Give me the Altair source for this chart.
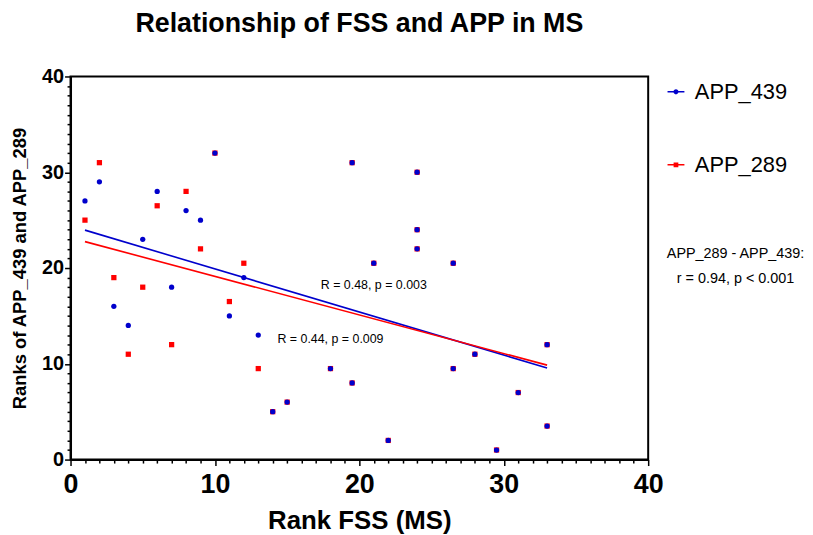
import altair as alt
import pandas as pd

# ---- data ----
rank_fss = [1, 2, 3, 4, 5, 6, 7, 8, 9, 10, 11, 12, 13, 14, 15, 18, 19.5, 19.5,
            21, 22, 24, 24, 24, 26.5, 26.5, 28, 29.5, 31, 33, 33]
app_439 = [27, 29, 16, 14, 23, 28, 18, 26, 25, 32, 15, 19, 13, 5, 6, 9.5, 8, 31,
           20.5, 2, 30, 24, 22, 20.5, 9.5, 11, 1, 7, 12, 3.5]
app_289 = [25, 31, 19, 11, 18, 26.5, 12, 28, 22, 32, 16.5, 20.5, 9.5, 5, 6, 9.5, 8, 31,
           20.5, 2, 30, 24, 22, 20.5, 9.5, 11, 1, 7, 12, 3.5]
series = ["APP_439", "APP_289"]
colors = ["#0000CC", "#FF0000"]
ann_text = ["R = 0.48, p = 0.003", "R = 0.44, p = 0.009"]
ann_x = [21, 18]
ann_y = [17.8, 12.2]
side_text = ["APP_289 - APP_439:", "r = 0.94, p < 0.001"]

FONT = "Liberation Sans"

df = pd.DataFrame({
    "fss": rank_fss + rank_fss,
    "rank": app_439 + app_289,
    "series": [series[0]] * len(rank_fss) + [series[1]] * len(rank_fss),
})
ann = pd.DataFrame({"fss": ann_x, "rank": ann_y, "t": ann_text})

major = "datum.value % 10 === 0"
x_axis = alt.Axis(
    values=list(range(0, 41)), labelExpr=f"{major} ? datum.label : ''",
    tickSize={"condition": {"test": major, "value": 6}, "value": 3.5},
    tickWidth=1.5, tickColor="black", domainColor="black", domainWidth=2,
    labelFont=FONT, labelFontSize=27, labelFontWeight="bold", labelColor="black",
    labelPadding=6, grid=False, title="Rank FSS (MS)", titleFont=FONT,
    titleFontSize=26, titleFontWeight="bold", titleColor="black", titlePadding=10,
    labelFlush=False, labelOverlap=False,
)
y_axis = alt.Axis(
    values=list(range(0, 41)), labelExpr=f"{major} ? datum.label : ''",
    tickSize={"condition": {"test": major, "value": 6}, "value": 3.5},
    tickWidth=1.5, tickColor="black", domainColor="black", domainWidth=2,
    labelFont=FONT, labelFontSize=20, labelFontWeight="bold", labelColor="black",
    labelPadding=1, grid=False, title="Ranks of APP_439 and APP_289", titleFont=FONT,
    titleFontSize=18.5, titleFontWeight="bold", titleColor="black", titlePadding=12,
    labelFlush=False, labelOverlap=False,
)
xs = alt.Scale(domain=[0, 40], nice=False, zero=False)
ys = alt.Scale(domain=[0, 40], nice=False, zero=False)
cscale = alt.Scale(domain=series, range=colors)

line_half = "M-1,-0.09L1,-0.09L1,0.09L-1,0.09Z"
circ = "M0.3,0A0.3,0.3,0,1,1,-0.3,0A0.3,0.3,0,1,1,0.3,0Z"
sq = "M-0.28,-0.28L0.28,-0.28L0.28,0.28L-0.28,0.28Z"
shape_paths = [line_half + circ, line_half + sq]

leg = dict(orient="none", legendX=599, legendY=4.5, direction="vertical", title=None,
           labelFont=FONT, labelFontSize=22, labelColor="black", symbolSize=289,
           symbolStrokeWidth=0, rowPadding=51.5, labelOffset=8, padding=0)

X = alt.X("fss:Q", scale=xs, axis=x_axis)
Y = alt.Y("rank:Q", scale=ys, axis=y_axis)
C = alt.Color("series:N", scale=cscale, legend=alt.Legend(**leg))

base = alt.Chart(df)

red_pts = base.transform_filter(alt.datum.series == series[1]).mark_point(
    shape="square", filled=True, size=28, opacity=1
).encode(x=X, y=Y, color=C)

blue_pts = base.transform_filter(alt.datum.series == series[0]).mark_point(
    shape="circle", filled=True, size=28, opacity=1
).encode(x=X, y=Y, color=C)

lines = base.transform_regression(
    "fss", "rank", groupby=["series"]
).mark_line(strokeWidth=1.6).encode(
    x=X, y=Y, color=C,
    order=alt.Order("series:N", sort="ascending"),
)

legend_layer = base.transform_filter("false").mark_point(filled=True, opacity=1).encode(
    x=X, y=Y, color=C,
    shape=alt.Shape("series:N", scale=alt.Scale(domain=series, range=shape_paths),
                    legend=alt.Legend(**leg)),
)

ann_layer = alt.Chart(ann).mark_text(
    font=FONT, fontSize=12.5, color="black", align="center", baseline="alphabetic"
).encode(x=X, y=Y, text="t:N")

side_layer = alt.Chart(ann).transform_filter("datum.fss === 21").mark_text(
    font=FONT, fontSize=14.5, color="black", align="center", baseline="alphabetic",
    lineHeight=25, text=side_text
).encode(x=alt.value(670), y=alt.value(183))

chart = alt.layer(red_pts, blue_pts, lines, legend_layer, ann_layer, side_layer).properties(
    width=582, height=386,
    title=alt.TitleParams("Relationship of FSS and APP in MS", font=FONT, fontSize=27,
                          fontWeight="bold", color="black", anchor="middle", frame="group",
                          offset=29),
    autosize=alt.AutoSizeParams(type="none"),
    padding={"left": 63, "top": 67, "right": 158, "bottom": 74},
    background="white",
).configure_view(stroke="black", strokeWidth=2)

chart.save("out.html", embed_options={"renderer": "svg", "actions": False})
